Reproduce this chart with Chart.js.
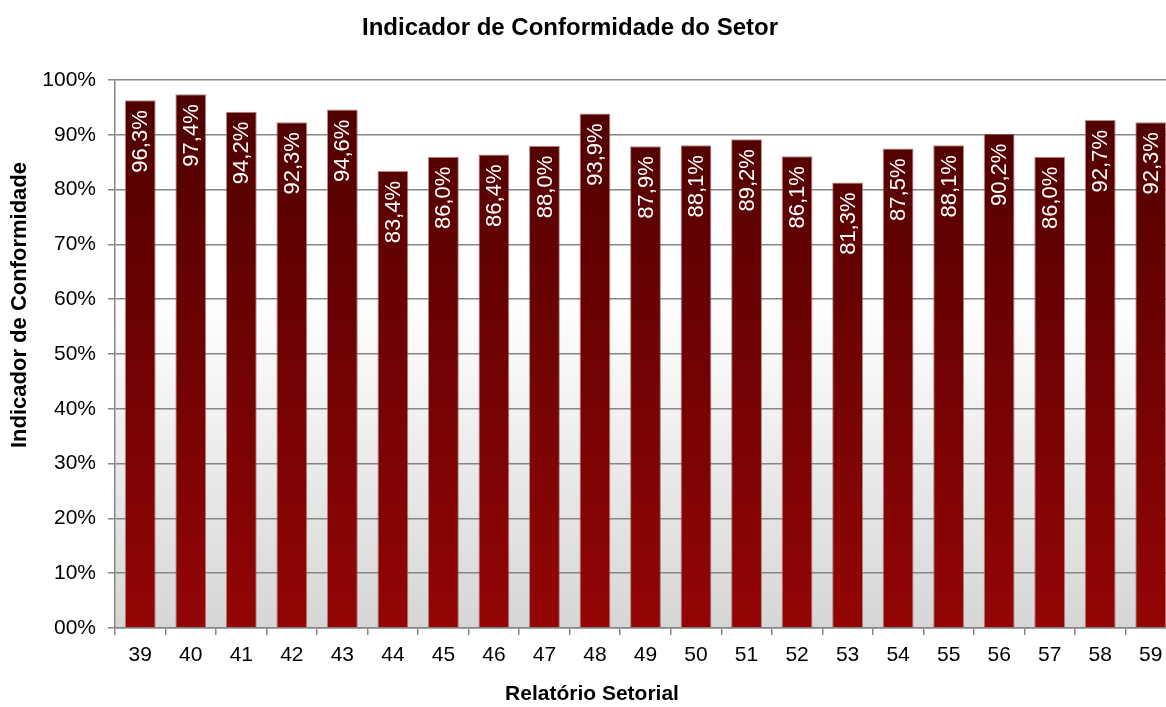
<!DOCTYPE html>
<html>
<head>
<meta charset="utf-8">
<script src="https://cdn.jsdelivr.net/npm/chart.js@4.4.1/dist/chart.umd.min.js"></script>
<style>
  html, body { margin: 0; padding: 0; background: #fff; overflow: hidden; }
  #wrap { width: 1177px; height: 707px; position: relative; }
</style>
</head>
<body>
<div id="wrap"><canvas id="myChart"></canvas></div>
<script>
// dados
const chartTitle = 'Indicador de Conformidade do Setor';
const xTitle = 'Relatório Setorial';
const yTitle = 'Indicador de Conformidade';
const categories = ['39', '40', '41', '42', '43', '44', '45', '46', '47', '48', '49',
                    '50', '51', '52', '53', '54', '55', '56', '57', '58', '59'];
const values = [96.3, 97.4, 94.2, 92.3, 94.6, 83.4, 86.0, 86.4, 88.0, 93.9, 87.9,
                88.1, 89.2, 86.1, 81.3, 87.5, 88.1, 90.2, 86.0, 92.7, 92.3];
const yTicks = [0, 10, 20, 30, 40, 50, 60, 70, 80, 90, 100];

const FONT = "'Liberation Sans', Arial, sans-serif";

function fmt(v)
{
    return v.toFixed(1).replace('.', ',') + '%';
}

function barGradient(ctx)
{
    const area = ctx.chart.chartArea;
    if (!area) return '#7a0000';
    const g = ctx.chart.ctx.createLinearGradient(0, area.top, 0, area.bottom);
    g.addColorStop(0, '#4c0000');
    g.addColorStop(1, '#940505');
    return g;
}

// fundo da área de plotagem
const plotBackground = {
    id: 'plotBackground',
    beforeDraw(chart)
    {
        const {ctx, chartArea: a} = chart;
        const g = ctx.createLinearGradient(0, a.top, 0, a.bottom);
        g.addColorStop(0, '#ffffff');
        g.addColorStop(0.4, '#ffffff');
        g.addColorStop(1, '#d6d6d6');
        ctx.save();
        ctx.fillStyle = g;
        ctx.fillRect(a.left, a.top, a.right - a.left, a.bottom - a.top);
        ctx.restore();
    }
};

// rótulos verticais dentro das barras + títulos
const barLabels = {
    id: 'barLabels',
    afterDatasetsDraw(chart)
    {
        const ctx = chart.ctx;
        const meta = chart.getDatasetMeta(0);
        ctx.save();
        ctx.fillStyle = '#ffffff';
        ctx.font = '22px ' + FONT;
        ctx.textAlign = 'right';
        ctx.textBaseline = 'middle';
        meta.data.forEach((bar, i) =>
        {
            ctx.save();
            ctx.translate(bar.x + 1, bar.y + 10);
            ctx.rotate(-Math.PI / 2);
            ctx.fillText(fmt(values[i]), 0, 0);
            ctx.restore();
        });
        ctx.restore();
    },
    afterDraw(chart)
    {
        const ctx = chart.ctx;
        ctx.save();
        ctx.fillStyle = '#000';
        ctx.textAlign = 'center';
        ctx.textBaseline = 'middle';
        ctx.font = 'bold 24px ' + FONT;
        ctx.fillText(chartTitle, 570, 28);
        ctx.font = 'bold 21px ' + FONT;
        ctx.fillText(xTitle, 592, 694);
        ctx.translate(20, 305);
        ctx.rotate(-Math.PI / 2);
        ctx.font = 'bold 22px ' + FONT;
        ctx.fillText(yTitle, 0, 0);
        ctx.restore();
    }
};

const ctx = document.getElementById('myChart');

new Chart(ctx, {
    type: 'bar',
    data: {
        labels: categories,
        datasets: [{
            data: values,
            backgroundColor: barGradient,
            borderColor: 'rgba(150, 90, 90, 0.7)',
            borderWidth: 1,
            barPercentage: 0.61,
            categoryPercentage: 1
        }]
    },
    options: {
        responsive: true,
        maintainAspectRatio: false,
        animation: false,
        layout: { padding: { top: 80, right: 1, left: 0, bottom: 0 } },
        plugins: {
            legend: { display: false },
            tooltip: { enabled: false },
            title: { display: false }
        },
        scales: {
            x: {
                offset: true,
                grid: {
                    display: true,
                    offset: true,
                    drawOnChartArea: false,
                    tickLength: 7,
                    color: '#868686',
                    lineWidth: 1.5
                },
                border: { color: '#868686', width: 1.5 },
                ticks: {
                    color: '#000',
                    font: { family: FONT, size: 21 },
                    padding: 8,
                    maxRotation: 0
                },
                afterFit(scale) { scale.height = 79; }
            },
            y: {
                min: 0,
                max: 100,
                afterBuildTicks(scale) { scale.ticks = yTicks.map(v => ({ value: v })); },
                grid: {
                    color: '#868686',
                    lineWidth: 1.5,
                    tickLength: 7
                },
                border: { color: '#868686', width: 1.5 },
                ticks: {
                    color: '#000',
                    font: { family: FONT, size: 21 },
                    padding: 12,
                    callback: v => (v === 0 ? '00' : v) + '%'
                },
                afterFit(scale) { scale.width = 115; }
            }
        }
    },
    plugins: [plotBackground, barLabels]
});
</script>
</body>
</html>
